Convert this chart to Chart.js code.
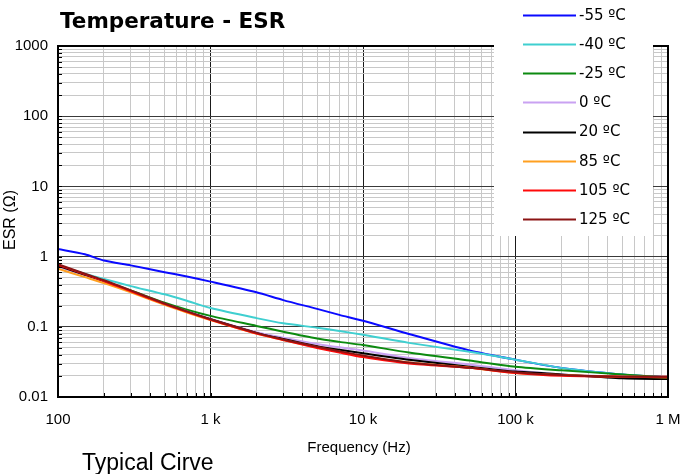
<!DOCTYPE html>
<html>
<head>
<meta charset="utf-8">
<script src="https://cdn.jsdelivr.net/npm/chart.js@4.4.1/dist/chart.umd.min.js"></script>
<style>
  html, body { margin: 0; padding: 0; background: #ffffff; }
  canvas { display: block; }
</style>
</head>
<body>
<canvas id="chart" width="697" height="474"></canvas>
<script>
// frequency points (Hz)
const freqs = [100, 150, 200, 300, 500, 700, 1000, 2000, 3000, 5000, 7000, 10000, 20000, 50000, 100000, 200000, 500000, 1000000];

// ESR (ohm) per temperature
const esrM55 = [1.28, 1.08, 0.88, 0.75, 0.6, 0.52, 0.44, 0.31, 0.24, 0.18, 0.148, 0.122, 0.079, 0.046, 0.034, 0.026, 0.021, 0.019];
const esrM40 = [0.74, 0.57, 0.48, 0.38, 0.29, 0.235, 0.185, 0.133, 0.112, 0.097, 0.087, 0.077, 0.059, 0.044, 0.034, 0.026, 0.021, 0.019];
const esrM25 = [0.75, 0.56, 0.45, 0.33, 0.22, 0.175, 0.143, 0.103, 0.085, 0.068, 0.061, 0.055, 0.043, 0.033, 0.027, 0.024, 0.021, 0.019];
const esr0   = [0.72, 0.54, 0.44, 0.32, 0.21, 0.166, 0.13, 0.084, 0.07, 0.057, 0.051, 0.046, 0.036, 0.029, 0.024, 0.021, 0.0195, 0.019];
const esr20  = [0.74, 0.55, 0.45, 0.32, 0.21, 0.164, 0.128, 0.082, 0.067, 0.053, 0.047, 0.042, 0.034, 0.027, 0.023, 0.021, 0.0185, 0.018];
const esr85  = [0.67, 0.51, 0.42, 0.31, 0.205, 0.16, 0.125, 0.08, 0.065, 0.051, 0.044, 0.038, 0.031, 0.026, 0.022, 0.0205, 0.0195, 0.019];
const esr105 = [0.76, 0.56, 0.45, 0.32, 0.21, 0.163, 0.126, 0.08, 0.065, 0.05, 0.043, 0.037, 0.03, 0.026, 0.022, 0.02, 0.0195, 0.0195];
const esr125 = [0.78, 0.57, 0.46, 0.33, 0.215, 0.166, 0.128, 0.082, 0.066, 0.052, 0.045, 0.039, 0.031, 0.026, 0.0225, 0.0205, 0.0195, 0.0195];

const seriesNames = ['-55 ºC', '-40 ºC', '-25 ºC', '0 ºC', '20 ºC', '85 ºC', '105 ºC', '125 ºC'];
const seriesColors = ['#0a0aff', '#3fcfd0', '#0c8a10', '#c9a2f2', '#000000', '#ffa020', '#ff0a0a', '#8b1414'];
const seriesValues = [esrM55, esrM40, esrM25, esr0, esr20, esr85, esr105, esr125];

// tick labels
const xTickLabels = { 100: '100', 1000: '1 k', 10000: '10 k', 100000: '100 k', 1000000: '1 M' };
const yTickLabels = { 0.01: '0.01', 0.1: '0.1', 1: '1', 10: '10', 100: '100', 1000: '1000' };

const isDecade = (v) => Math.abs(Math.log10(v) - Math.round(Math.log10(v))) < 1e-9;

// 1..9 x 10^n ticks between min and max
function logTicks(min, max) {
  const out = [];
  for (let e = Math.round(Math.log10(min)); e < Math.round(Math.log10(max)); e++) {
    for (let s = 1; s <= 9; s++) out.push({ value: Number((s * Math.pow(10, e)).toPrecision(6)) });
  }
  out.push({ value: max });
  return out;
}

const datasets = seriesValues.map((vals, i) => ({
  label: seriesNames[i],
  data: freqs.map((f, j) => ({ x: f, y: vals[j] })),
  borderColor: seriesColors[i],
  backgroundColor: seriesColors[i],
  borderWidth: 2,
  pointRadius: 0,
  tension: 0.25,
  order: seriesValues.length - 1 - i, // later series drawn on top
}));

// text, frame, inward ticks and the legend box
const decorations = {
  id: 'decorations',
  afterDraw(chart) {
    const { ctx, chartArea: a, scales } = chart;
    ctx.save();

    // inward tick marks
    ctx.strokeStyle = '#000';
    ctx.lineWidth = 1;
    scales.x.ticks.forEach((t) => {
      const px = Math.round(scales.x.getPixelForValue(t.value)) + 0.5;
      ctx.beginPath();
      ctx.moveTo(px, a.bottom);
      ctx.lineTo(px, a.bottom - 4);
      ctx.stroke();
    });
    scales.y.ticks.forEach((t) => {
      const py = Math.round(scales.y.getPixelForValue(t.value)) + 0.5;
      ctx.beginPath();
      ctx.moveTo(a.left, py);
      ctx.lineTo(a.left + 4, py);
      ctx.stroke();
    });

    // frame
    ctx.lineWidth = 2;
    ctx.strokeRect(a.left, a.top, a.right - a.left, a.bottom - a.top);

    // legend box
    ctx.fillStyle = '#ffffff';
    ctx.fillRect(494, 0, 159, 236);
    ctx.font = '15px "DejaVu Sans"';
    ctx.textBaseline = 'middle';
    ctx.textAlign = 'left';
    chart.data.datasets.forEach((ds, i) => {
      const y = 14.7 + i * 29.2;
      ctx.strokeStyle = ds.borderColor;
      ctx.lineWidth = 2;
      ctx.beginPath();
      ctx.moveTo(523, Math.round(y) + 0.5);
      ctx.lineTo(576, Math.round(y) + 0.5);
      ctx.stroke();
      ctx.fillStyle = '#000';
      ctx.fillText(ds.label, 579, y + 1);
    });

    // title
    ctx.fillStyle = '#000';
    ctx.font = 'bold 21.5px "DejaVu Sans"';
    ctx.textBaseline = 'alphabetic';
    ctx.fillText('Temperature - ESR', 60, 28);

    // axis titles
    ctx.font = '15px "Liberation Sans"';
    ctx.textAlign = 'center';
    ctx.fillText('Frequency (Hz)', 359, 452);

    ctx.save();
    ctx.translate(15, 220);
    ctx.rotate(-Math.PI / 2);
    ctx.font = '16px "Liberation Sans"';
    ctx.fillText('ESR (Ω)', 0, 0);
    ctx.restore();

    // footnote
    ctx.textAlign = 'left';
    ctx.font = '23px "Liberation Sans"';
    ctx.fillText('Typical Cirve', 82, 470);

    ctx.restore();
  },
};

new Chart(document.getElementById('chart').getContext('2d'), {
  type: 'line',
  data: { datasets },
  options: {
    responsive: false,
    animation: false,
    layout: { padding: { top: 46, right: 29, left: 0, bottom: 0 } },
    scales: {
      x: {
        type: 'logarithmic',
        min: 100,
        max: 1000000,
        afterBuildTicks: (scale) => { scale.ticks = logTicks(100, 1000000); },
        afterFit: (scale) => { scale.height = 77; },
        border: { display: false },
        grid: {
          drawTicks: false,
          color: (c) => (c.tick && isDecade(c.tick.value) ? '#1a1a1a' : '#c8c8c8'),
          lineWidth: 1,
        },
        ticks: {
          autoSkip: false,
          maxRotation: 0,
          padding: 14,
          color: '#000',
          font: { family: '"Liberation Sans"', size: 15 },
          callback: (v) => xTickLabels[v] || '',
        },
      },
      y: {
        type: 'logarithmic',
        min: 0.01,
        max: 1000,
        afterBuildTicks: (scale) => { scale.ticks = logTicks(0.01, 1000); },
        afterFit: (scale) => { scale.width = 58; },
        border: { display: false },
        grid: {
          drawTicks: false,
          color: (c) => (c.tick && isDecade(c.tick.value) ? '#3a3a3a' : '#c8c8c8'),
          lineWidth: 1,
        },
        ticks: {
          autoSkip: false,
          padding: 10,
          color: '#000',
          font: { family: '"Liberation Sans"', size: 15 },
          callback: (v) => yTickLabels[v] || '',
        },
      },
    },
    plugins: {
      legend: { display: false },
      tooltip: { enabled: false },
      title: { display: false },
    },
  },
  plugins: [decorations],
});
</script>
</body>
</html>
